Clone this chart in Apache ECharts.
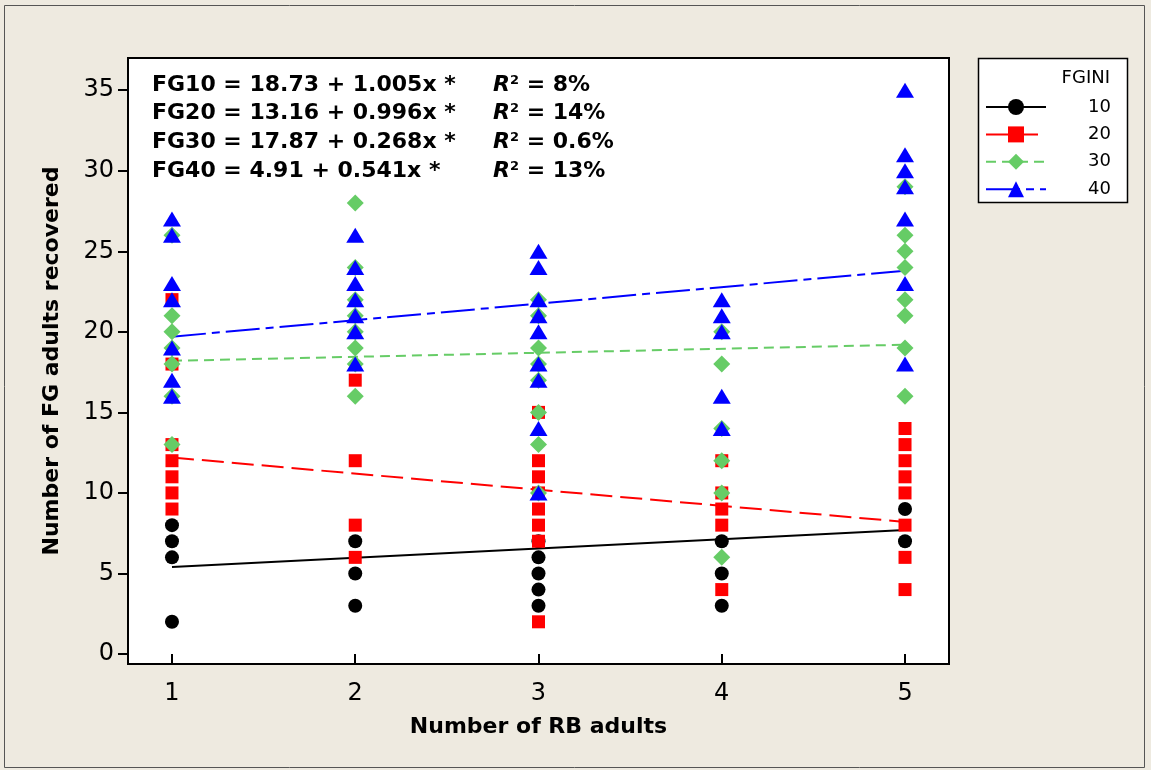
<!DOCTYPE html>
<html>
<head>
<meta charset="utf-8">
<script src="https://cdn.jsdelivr.net/npm/echarts@6/dist/echarts.min.js"></script>
<style>
html,body{margin:0;padding:0;background:#EEEAE0;}
#chart{width:1151px;height:770px;}
</style>
</head>
<body>
<div id="chart"></div>
<script>
// ---- data ----
const xTicks = [1, 2, 3, 4, 5];
const yTicks = [0, 5, 10, 15, 20, 25, 30, 35];
const groupNames = ['10', '20', '30', '40'];
// observed values per RB-adult level (x = 1..5)
const fg10 = [[8, 7, 6, 2], [7, 5, 3], [7, 6, 5, 4, 3], [7, 5, 3], [9, 7]];
const fg20 = [[22, 18, 13, 12, 11, 10, 9], [17, 12, 8, 6], [15, 12, 11, 10, 9, 8, 7, 2], [12, 10, 9, 8, 4], [14, 13, 12, 11, 10, 8, 6, 4]];
const fg30 = [[26, 21, 20, 19, 18, 16, 13], [28, 24, 22, 21, 20, 19, 18, 16], [22, 21, 19, 18, 17, 15, 13, 10], [20, 18, 14, 12, 10, 6], [29, 26, 25, 24, 22, 21, 19, 16]];
const fg40 = [[27, 26, 23, 22, 19, 17, 16], [26, 24, 23, 22, 21, 20, 18], [25, 24, 22, 21, 20, 18, 17, 14, 10], [22, 21, 20, 16, 14], [35, 31, 30, 29, 27, 23, 18]];
// fitted line end values (at x = 1 and x = 5)
const fitX = [1, 5];
const fit10 = [5.4, 7.7];
const fit20 = [12.2, 8.2];
const fit30 = [18.2, 19.2];
const fit40 = [19.7, 23.8];
// equation texts
const eqLeft = ['FG10 = 18.73 + 1.005x *', 'FG20 = 13.16 + 0.996x *', 'FG30 = 17.87 + 0.268x *', 'FG40 = 4.91 + 0.541x *'];
const eqR2 = ['8%', '14%', '0.6%', '13%'];

// ---- styles ----
const FONT = 'DejaVu Sans';
const colors = ['#000000', '#FF0000', '#66CC66', '#0000FF'];
const symbols = ['circle', 'rect', 'diamond', 'triangle'];
const symbolSizes = [14, 13, 17, [18, 15]];
const dashes = ['solid', [22, 8], [10, 6], [34, 6, 8, 6]];
const obs = [fg10, fg20, fg30, fg40];
const fits = [fit10, fit20, fit30, fit40];

function toPoints(cols) {
  const pts = [];
  cols.forEach((ys, i) => ys.forEach(y => pts.push([xTicks[i], y])));
  return pts;
}

const series = [];
groupNames.forEach((n, k) => {
  series.push({
    type: 'line', name: n,
    data: fitX.map((x, i) => [x, fits[k][i]]),
    symbol: symbols[k], symbolSize: symbolSizes[k], showSymbol: false,
    lineStyle: { color: colors[k], width: 2, type: dashes[k] },
    itemStyle: { color: colors[k] },
    silent: true, z: 2
  });
});
groupNames.forEach((n, k) => {
  series.push({
    type: 'scatter', name: n,
    data: toPoints(obs[k]),
    symbol: symbols[k], symbolSize: symbolSizes[k],
    itemStyle: { color: colors[k], opacity: 1 },
    silent: true, z: 3
  });
});

const graphics = [
  { type: 'rect', shape: { x: 4.5, y: 5.5, width: 1140, height: 762 }, style: { fill: 'none', stroke: '#555', lineWidth: 1 }, z: 0, silent: true },
  { type: 'rect', shape: { x: 978.5, y: 58.5, width: 149, height: 144 }, style: { fill: '#fff', stroke: '#000', lineWidth: 1.5 }, z: 1, silent: true },
  { type: 'text', x: 1110, y: 78, style: { text: 'FGINI', font: '18px "DejaVu Sans"', fill: '#000', align: 'right', verticalAlign: 'middle' }, z: 5 }
];
const eqY = [85, 113, 142, 171];
eqLeft.forEach((t, i) => {
  graphics.push({ type: 'text', x: 152, y: eqY[i], z: 10,
    style: { text: t, font: 'bold 22px "DejaVu Sans"', fill: '#000', align: 'left', verticalAlign: 'middle' } });
  graphics.push({ type: 'text', x: 493, y: eqY[i], z: 10,
    style: {
      text: '{r|R}{s|2}{b| = ' + eqR2[i] + '}', align: 'left', verticalAlign: 'middle',
      rich: {
        r: { fontFamily: FONT, fontSize: 22, fontWeight: 'bold', fontStyle: 'italic', color: '#000' },
        s: { fontFamily: FONT, fontSize: 13, fontWeight: 'bold', color: '#000', verticalAlign: 'top', lineHeight: 13 },
        b: { fontFamily: FONT, fontSize: 22, fontWeight: 'bold', color: '#000' }
      }
    } });
});

const chart = echarts.init(document.getElementById('chart'), null, { renderer: 'canvas' });
chart.setOption({
  animation: false,
  backgroundColor: '#EEEAE0',
  textStyle: { fontFamily: FONT },
  grid: { left: 128, top: 58, width: 821, height: 606, show: true, backgroundColor: '#fff', borderColor: '#000', borderWidth: 2 },
  xAxis: {
    type: 'value', min: 0.76, max: 5.24,
    name: 'Number of RB adults', nameLocation: 'middle', nameGap: 52,
    nameTextStyle: { fontFamily: FONT, fontSize: 22, fontWeight: 'bold', color: '#000' },
    axisLine: { show: false },
    axisTick: { show: true, customValues: xTicks, length: 11, lineStyle: { color: '#000', width: 2 } },
    axisLabel: { customValues: xTicks, fontFamily: FONT, fontSize: 24, color: '#000', margin: 18 },
    splitLine: { show: false }
  },
  yAxis: {
    type: 'value', min: -0.62, max: 37,
    name: 'Number of FG adults recovered', nameLocation: 'middle', nameGap: 65,
    nameTextStyle: { fontFamily: FONT, fontSize: 22, fontWeight: 'bold', color: '#000' },
    axisLine: { show: false },
    axisTick: { show: true, customValues: yTicks, length: 10, lineStyle: { color: '#000', width: 2 } },
    axisLabel: { customValues: yTicks, fontFamily: FONT, fontSize: 24, color: '#000', margin: 14 },
    splitLine: { show: false }
  },
  legend: {
    data: groupNames, orient: 'vertical', left: 985, top: 98, padding: 0,
    itemWidth: 60, itemHeight: 20, itemGap: 9.4, selectedMode: false, z: 6,
    formatter: n => '{r|' + n + '}',
    textStyle: { fontFamily: FONT, fontSize: 18, color: '#000',
      rich: { r: { width: 60, align: 'right', fontFamily: FONT, fontSize: 18, color: '#000' } } }
  },
  graphic: graphics,
  series: series
});
</script>
</body>
</html>
